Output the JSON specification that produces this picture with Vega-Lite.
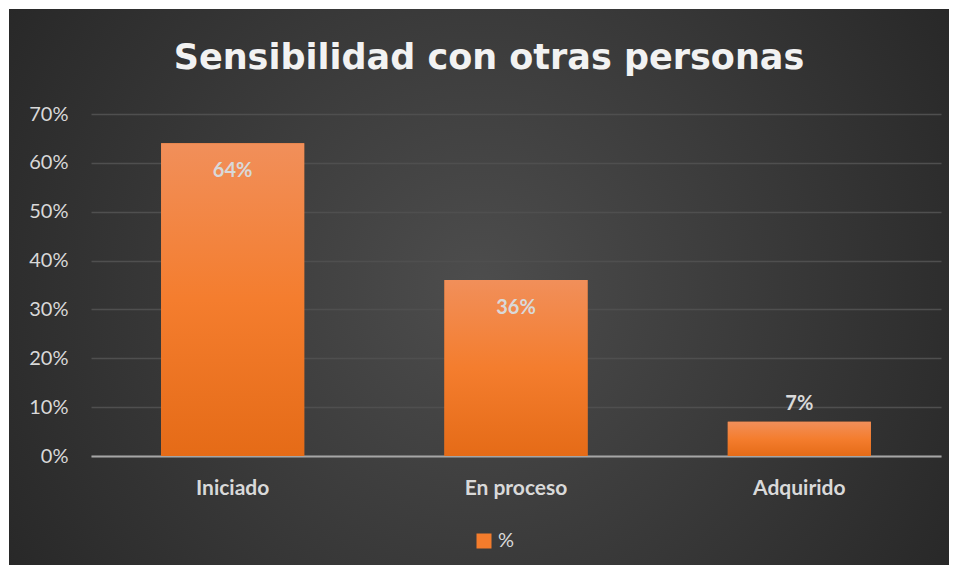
{
  "$schema": "https://vega.github.io/schema/vega-lite/v6.json",
  "width": 940,
  "height": 556,
  "autosize": {"type": "none"},
  "padding": 9,
  "background": "white",
  "title": {
    "text": "Sensibilidad con otras personas",
    "offset": -67,
    "dx": 10,
    "fontSize": 35,
    "font": "DejaVu Sans",
    "fontWeight": "bold",
    "color": "#f2f2f2",
    "anchor": "middle"
  },
  "data": {
    "values": [
      {"nivel": "Iniciado", "valor": 0.64, "serie": "%"},
      {"nivel": "En proceso", "valor": 0.36, "serie": "%"},
      {"nivel": "Adquirido", "valor": 0.07, "serie": "%"}
    ]
  },
  "encoding": {
    "x": {
      "field": "nivel",
      "type": "nominal",
      "sort": ["Iniciado", "En proceso", "Adquirido"],
      "scale": {
        "domain": ["Iniciado", "En proceso", "Adquirido"],
        "range": [82, 932],
        "paddingInner": 0.495,
        "paddingOuter": 0.2475
      },
      "axis": {
        "title": null,
        "orient": "bottom",
        "offset": -109,
        "labelAngle": 0,
        "ticks": false,
        "tickSize": 0,
        "domainColor": "#a6a6a6",
        "domainWidth": 2,
        "labelPadding": 21,
        "labelFontSize": 21,
        "labelFontWeight": "bold",
        "labelColor": "#d9d9d9",
        "grid": false
      }
    },
    "y": {
      "field": "valor",
      "type": "quantitative",
      "scale": {"domain": [0, 0.7], "range": [447, 105], "nice": false},
      "axis": {
        "title": null,
        "format": ".0%",
        "values": [0, 0.1, 0.2, 0.3, 0.4, 0.5, 0.6, 0.7],
        "offset": -82,
        "ticks": false,
        "tickSize": 0,
        "domain": false,
        "labelPadding": 23,
        "labelFontSize": 20,
        "labelColor": "#d9d9d9",
        "gridColor": "#4f4f4f",
        "gridWidth": 1.5
      }
    }
  },
  "layer": [
    {
      "mark": {"type": "bar"},
      "encoding": {
        "color": {
          "field": "serie",
          "type": "nominal",
          "scale": {"range": ["#f47c2c"]},
          "legend": {
            "orient": "none",
            "legendX": 465,
            "legendY": 522,
            "title": null,
            "symbolType": "square",
            "symbolSize": 225,
            "symbolStrokeWidth": 0,
            "labelFontSize": 20,
            "labelColor": "#d9d9d9",
            "padding": 0,
            "labelOffset": 4
          }
        }
      }
    },
    {
      "mark": {
        "type": "bar",
        "color": {
          "gradient": "linear",
          "x1": 0, "y1": 0, "x2": 0, "y2": 1,
          "stops": [
            {"offset": 0, "color": "#f18f5a"},
            {"offset": 0.5, "color": "#f47d2e"},
            {"offset": 1, "color": "#e56b17"}
          ]
        }
      }
    },
    {
      "transform": [{"filter": "datum.valor > 0.2"}],
      "mark": {"type": "text", "dy": 28, "baseline": "middle", "fontSize": 20, "fontWeight": "bold", "color": "#d9d9d9"},
      "encoding": {"text": {"field": "valor", "type": "quantitative", "format": ".0%"}}
    },
    {
      "transform": [{"filter": "datum.valor <= 0.2"}],
      "mark": {"type": "text", "dy": -18, "baseline": "middle", "fontSize": 20, "fontWeight": "bold", "color": "#d9d9d9"},
      "encoding": {"text": {"field": "valor", "type": "quantitative", "format": ".0%"}}
    }
  ],
  "config": {
    "font": "Lato",
    "view": {
      "stroke": null,
      "fill": {
        "gradient": "radial",
        "x1": 0.5, "y1": 0.5, "r1": 0,
        "x2": 0.5, "y2": 0.5, "r2": 0.6,
        "stops": [
          {"offset": 0, "color": "#4d4d4d"},
          {"offset": 1, "color": "#272727"}
        ]
      }
    }
  }
}
